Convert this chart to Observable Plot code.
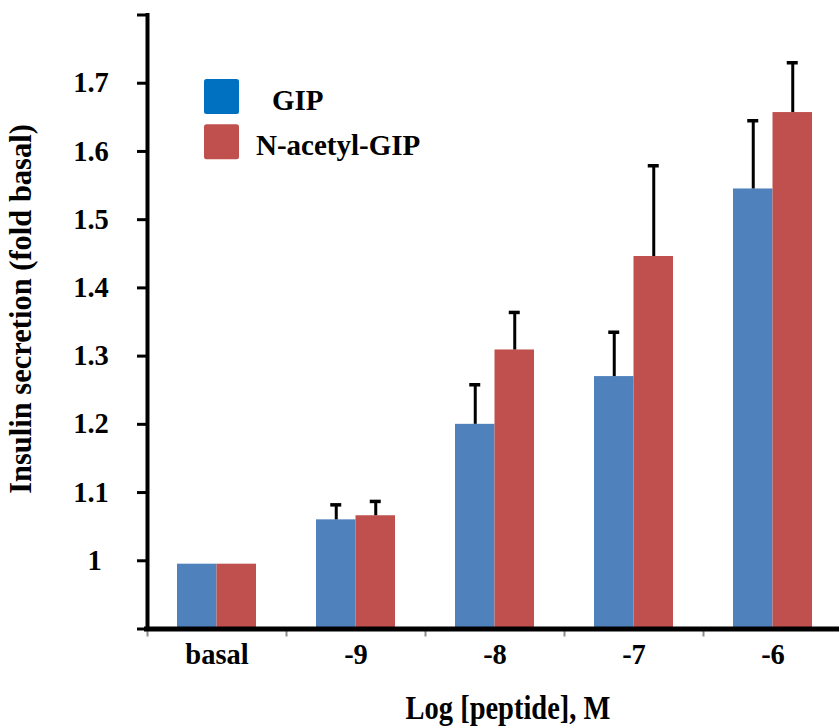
<!DOCTYPE html>
<html><head><meta charset="utf-8">
<script src="https://cdn.jsdelivr.net/npm/d3@7"></script>
<script src="https://cdn.jsdelivr.net/npm/@observablehq/plot@0.6"></script>
<style>
html,body{margin:0;padding:0;background:#fff;overflow:hidden}
#chart svg{display:block}
</style></head><body><div id="chart"></div>
<script>
// ---- data ----
const categories = ["basal", "-9", "-8", "-7", "-6"];
const seriesNames = ["GIP", "N-acetyl-GIP"];
const gipValues = [0.995, 1.060, 1.200, 1.270, 1.545];
const gipErrors = [0, 0.022, 0.058, 0.065, 0.100];
const acetylValues = [0.995, 1.066, 1.309, 1.446, 1.657];
const acetylErrors = [0, 0.021, 0.055, 0.133, 0.073];
const yTicks = [0.9, 1.0, 1.1, 1.2, 1.3, 1.4, 1.5, 1.6, 1.7, 1.8];
const yTickLabels = ["", "1\u00a0", "1.1", "1.2", "1.3", "1.4", "1.5", "1.6", "1.7", ""];
const barColors = ["#4F81BD", "#C0504D"];
const legendColors = ["#0070C0", "#C0504D"];
const xTitle = "Log [peptide], M";
const yTitle = "Insulin secretion (fold basal)";

// ---- layout ----
const W = 839, H = 728;
const ML = 147, MT = 14.5, MB = 99.5;
const STEP = 139;
const FS = 28.5;
const fontFam = "'Liberation Serif','Times New Roman',serif";
const yDomain = [yTicks[0], yTicks[yTicks.length - 1]];

const rows = [];
categories.forEach((c, i) => {
  rows.push({cat: c, series: seriesNames[0], value: gipValues[i], err: gipErrors[i]});
  rows.push({cat: c, series: seriesNames[1], value: acetylValues[i], err: acetylErrors[i]});
});
const labelOf = new Map(yTicks.map((t, i) => [Math.round(t * 10), yTickLabels[i]]));

const bySeries = (s) => rows.filter(d => d.series === s);
const withErr = (s) => rows.filter(d => d.series === s && d.err > 0);
const offs = [-19.75, 19.75];
const insets = [[30, 69.5], [69.5, 30]];

const marks = [];
seriesNames.forEach((s, k) => {
  marks.push(Plot.barY(bySeries(s), {
    x: "cat", y1: () => yDomain[0], y2: "value", fill: "series",
    insetLeft: insets[k][0], insetRight: insets[k][1]
  }));
});
seriesNames.forEach((s, k) => {
  marks.push(Plot.ruleX(withErr(s), {
    x: "cat", y1: "value", y2: d => d.value + d.err, dx: offs[k],
    stroke: "#000", strokeWidth: 3
  }));
  marks.push(Plot.tickY(withErr(s), {
    x: "cat", y: d => d.value + d.err, dx: offs[k],
    insetLeft: 64, insetRight: 64, stroke: "#000", strokeWidth: 3.5
  }));
});
marks.push(
  Plot.axisX({tickSize: 8, stroke: "#8c8c8c", strokeWidth: 2, fill: "none", tickFormat: () => "", dx: -STEP / 2, label: null}),
  Plot.axisX({tickSize: 0, tickPadding: 15, fontSize: FS, label: null}),
  Plot.axisY(yTicks, {tickSize: 10, strokeWidth: 3, tickPadding: 28.7, fontSize: FS,
    tickFormat: d => labelOf.get(Math.round(d * 10)), label: null}),
  Plot.frame({anchor: "left", stroke: "#000", strokeWidth: 4}),
  Plot.ruleY([yDomain[0]], {stroke: "#000", strokeWidth: 5, insetLeft: -3}),
  Plot.text([yTitle], {frameAnchor: "left", textAnchor: "middle", lineAnchor: "middle", rotate: -90,
    dx: -126, dy: -13, fontSize: 30.5, text: d => d}),
  Plot.text([xTitle], {frameAnchor: "bottom", textAnchor: "middle", lineAnchor: "middle",
    dx: 14.5, dy: 79, fontSize: FS, text: d => d, className: "xtitle"})
);

const plot = Plot.plot({
  width: W, height: H,
  marginLeft: ML, marginRight: 0, marginTop: MT, marginBottom: MB,
  style: {fontFamily: fontFam, fontWeight: "bold", fontSize: FS + "px", color: "#000", background: "#fff", overflow: "visible"},
  x: {domain: categories, range: [ML, ML + categories.length * STEP], padding: 0, round: false, axis: null},
  y: {domain: yDomain, axis: null},
  color: {domain: seriesNames, range: barColors},
  marks
});

// legend (layout only)
const svg = d3.select(plot);
const lg = svg.append("g").attr("class", "legend").attr("text-anchor", "start");
const legendX = 204, legendY0 = 79, legendGap = 45.3, sw = 35;
const legendTextX = [272, 256];
seriesNames.forEach((s, k) => {
  lg.append("rect").attr("x", legendX).attr("y", legendY0 + k * legendGap)
    .attr("width", sw).attr("height", sw).attr("rx", 2.5).attr("fill", legendColors[k]);
  lg.append("text").attr("x", legendTextX[k]).attr("y", legendY0 + k * legendGap + 31)
    .attr("text-anchor", "start")
    .attr("font-size", 29).attr("font-weight", "bold").attr("fill", "#000").text(s);
});

document.getElementById("chart").appendChild(plot);

// x-axis title is drawn slightly taller in the original
svg.selectAll(".xtitle text").each(function () {
  const t = d3.select(this);
  const tr = t.attr("transform") || "";
  t.attr("transform", tr + " scale(1,1.2)");
});
</script>
</body></html>
